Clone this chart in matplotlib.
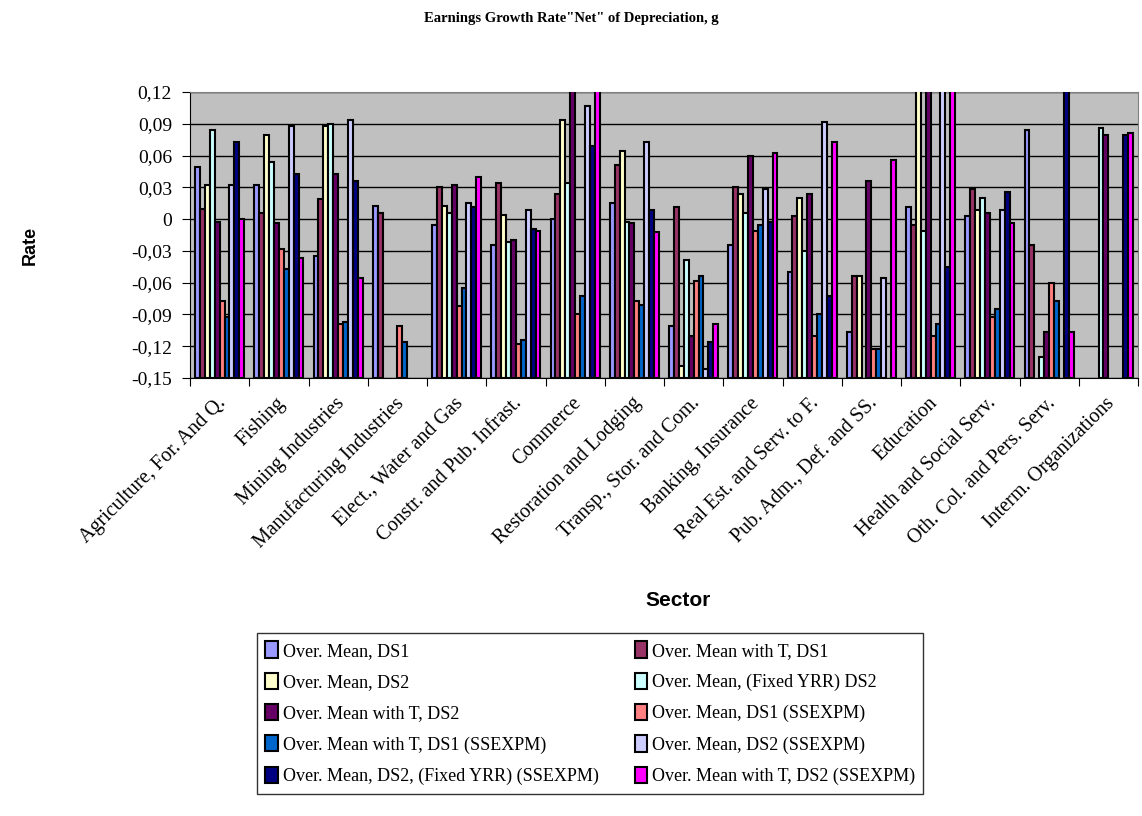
import numpy as np
import matplotlib.pyplot as plt
from matplotlib.patches import Patch

nan = np.nan
TOP = 0.16  # bars that run past the top of the axis

sectors = ["Agriculture, For. And Q.", "Fishing", "Mining Industries",
           "Manufacturing Industries", "Elect., Water and Gas",
           "Constr. and Pub. Infrast.", "Commerce", "Restoration and Lodging",
           "Transp., Stor. and Com.", "Banking, Insurance",
           "Real Est. and Serv. to F.", "Pub. Adm., Def. and SS.", "Education",
           "Health and Social Serv.", "Oth. Col. and Pers. Serv.",
           "Interm. Organizations"]

series_names = ["Over. Mean, DS1", "Over. Mean with T, DS1", "Over. Mean, DS2",
                "Over. Mean, (Fixed YRR) DS2", "Over. Mean with T, DS2",
                "Over. Mean, DS1 (SSEXPM)", "Over. Mean with T, DS1 (SSEXPM)",
                "Over. Mean, DS2 (SSEXPM)", "Over. Mean, DS2, (Fixed YRR) (SSEXPM)",
                "Over. Mean with T, DS2 (SSEXPM)"]

colors = ["#9999FF", "#993366", "#FFFFCC", "#CCFFFF", "#660066",
          "#FF8080", "#0066CC", "#CCCCFF", "#000080", "#FF00FF"]

mean_ds1 = [0.049, 0.032, -0.035, 0.0126, -0.006, -0.024, 0.0, 0.015, -0.101,
            -0.024, -0.050, -0.107, 0.011, 0.0025, 0.084, nan]
mean_t_ds1 = [0.010, 0.006, 0.019, 0.006, 0.030, 0.034, 0.024, 0.051, 0.011,
              0.030, 0.0025, -0.054, -0.006, 0.028, -0.024, nan]
mean_ds2 = [0.032, 0.079, 0.088, nan, 0.0126, 0.004, 0.094, 0.064, -0.139,
            0.024, 0.0196, -0.054, TOP, 0.0085, nan, nan]
mean_fixed_ds2 = [0.084, 0.054, 0.090, nan, 0.006, -0.022, 0.034, -0.0025, -0.0385,
                  0.006, -0.030, nan, -0.011, 0.0196, -0.130, 0.086]
mean_t_ds2 = [-0.0025, -0.004, 0.043, nan, 0.032, -0.020, TOP, -0.004, -0.110,
              0.060, 0.024, 0.036, TOP, 0.006, -0.107, 0.079]
mean_ds1_ss = [-0.077, -0.028, -0.099, -0.101, -0.082, -0.118, -0.090, -0.077, -0.058,
               -0.011, -0.110, -0.123, -0.110, -0.092, -0.060, nan]
mean_t_ds1_ss = [-0.0925, -0.047, -0.097, -0.116, -0.065, -0.114, -0.073, -0.081, -0.054,
                 -0.006, -0.090, -0.123, -0.099, -0.085, -0.077, nan]
mean_ds2_ss = [0.032, 0.088, 0.094, nan, 0.015, 0.0085, 0.107, 0.073, -0.1415,
               0.028, 0.092, -0.056, TOP, 0.0085, nan, nan]
mean_fixed_ds2_ss = [0.073, 0.043, 0.036, nan, 0.011, -0.009, 0.069, 0.009, -0.116,
                     -0.0025, -0.073, nan, -0.045, 0.026, TOP, 0.079]
mean_t_ds2_ss = [0.0, -0.037, -0.056, nan, 0.040, -0.011, TOP, -0.0126, -0.099,
                 0.062, 0.073, 0.056, TOP, -0.004, -0.107, 0.081]

all_series = [mean_ds1, mean_t_ds1, mean_ds2, mean_fixed_ds2, mean_t_ds2,
              mean_ds1_ss, mean_t_ds1_ss, mean_ds2_ss, mean_fixed_ds2_ss, mean_t_ds2_ss]

yticks = [-0.15, -0.12, -0.09, -0.06, -0.03, 0, 0.03, 0.06, 0.09, 0.12]
ytick_labels = ["-0,15", "-0,12", "-0,09", "-0,06", "-0,03", "0",
                "0,03", "0,06", "0,09", "0,12"]

serif = "Liberation Serif"
sans = "Liberation Sans"

fig = plt.figure(figsize=(11.42, 8.16), dpi=100)
ax = fig.add_axes([190 / 1142, 1 - 378 / 816, 948 / 1142, 286 / 816])
ax.set_facecolor("#C0C0C0")

base = -0.15
x = np.arange(len(sectors))
w = 0.083
for i, vals in enumerate(all_series):
    v = np.array(vals, dtype=float)
    ax.bar(x - 4.5 * w + i * w, v - base, bottom=base, width=w,
           color=colors[i], edgecolor="black", linewidth=1.5, zorder=3)

ax.set_xlim(-0.5, len(sectors) - 0.5)
ax.set_ylim(-0.15, 0.12)
ax.set_yticks(yticks)
ax.set_yticklabels(ytick_labels, fontfamily=serif, fontsize=14)
ax.yaxis.grid(True, color="black", linewidth=1, zorder=1)
ax.set_axisbelow(True)

ax.set_xticks(np.arange(len(sectors) + 1) - 0.5)
ax.set_xticklabels([])
ax.tick_params(axis="x", direction="out", length=6, color="black")
ax.tick_params(axis="y", direction="out", length=6, pad=7)
for i, s in enumerate(sectors):
    ax.text(i - 0.05, -0.165, s, rotation=45, ha="right", va="top",
            rotation_mode="anchor", fontfamily=serif, fontsize=14.5)

for side in ["top", "right"]:
    ax.spines[side].set_color("#808080")
for side in ["left", "bottom"]:
    ax.spines[side].set_color("black")

fig.text(0.5, 0.977, 'Earnings Growth Rate"Net" of Depreciation, g', ha="center",
         va="center", fontfamily=serif, fontweight="bold", fontsize=10.5)
fig.text(30 / 1142, 1 - 245 / 816, "Rate", rotation=90, ha="center", va="center",
         fontfamily=sans, fontweight="bold", fontsize=13)
fig.text(678 / 1142, 1 - 601 / 816, "Sector", ha="center", va="center",
         fontfamily=sans, fontweight="bold", fontsize=15)

# legend reads row by row in the reference, matplotlib fills by column
order = [0, 2, 4, 6, 8, 1, 3, 5, 7, 9]
handles = [Patch(facecolor=colors[k], edgecolor="black", linewidth=1.5) for k in order]
labels = [series_names[k] for k in order]
leg = fig.legend(handles, labels, loc="upper left", ncol=2,
                 bbox_to_anchor=(257 / 1142, 1 - 633 / 816),
                 prop={"family": serif, "size": 13}, frameon=True,
                 fancybox=False, edgecolor="black", handlelength=0.7,
                 handleheight=1.0, handletextpad=0.25, labelspacing=0.72,
                 columnspacing=2.0, borderpad=0.47, borderaxespad=0)
leg.get_frame().set_linewidth(1)

fig.savefig("out.png", dpi=100)
